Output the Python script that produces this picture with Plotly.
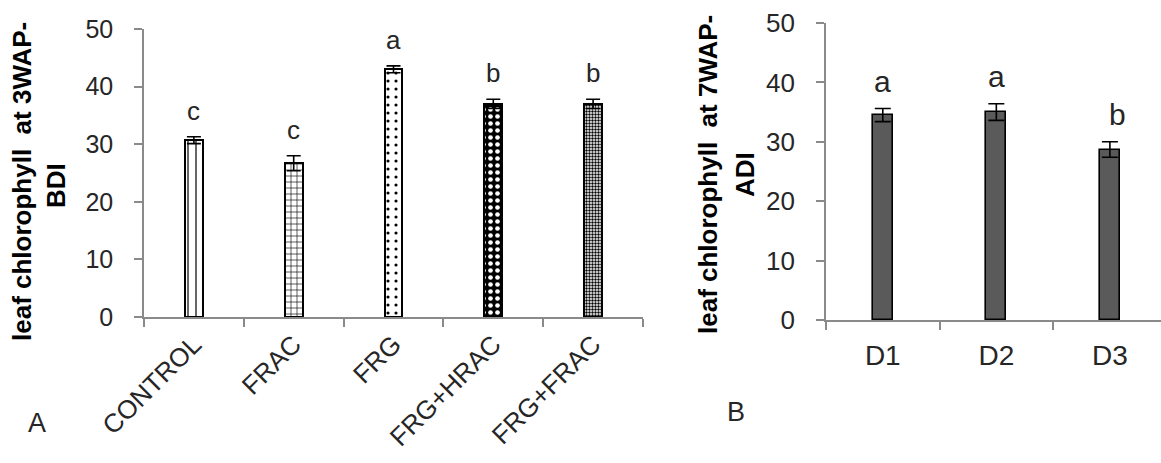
import plotly.graph_objects as go

W, H = 1161, 463

# Panel A data
cats_a = ["CONTROL", "FRAC", "FRG", "FRG+HRAC", "FRG+FRAC"]
vals_a = [30.7, 26.7, 43.0, 37.0, 37.0]
errs_a = [0.6, 1.3, 0.6, 0.8, 0.8]
letters_a = ["c", "c", "a", "b", "b"]

# Panel B data
cats_b = ["D1", "D2", "D3"]
vals_b = [34.5, 35.0, 28.7]
errs_b = [1.1, 1.4, 1.3]
letters_b = ["a", "a", "b"]

yticks = [0, 10, 20, 30, 40, 50]

FONT = "Liberation Sans, Arial, sans-serif"
AX = "#8a8a8a"
TXT = "#262626"

def px(x):
    return x / W

def py(y):
    return 1 - y / H

fig = go.Figure()

fig.add_trace(go.Bar(
    x=cats_a, y=vals_a, xaxis="x", yaxis="y", width=0.18,
    marker=dict(
        color="white",
        line=dict(color="black", width=2),
        pattern=dict(
            shape=["|", "+", ".", ".", "."],
            size=[8, 6, 8, 7, 3],
            solidity=[0.15, 0.2, 0.12, 0.35, 0.5],
            bgcolor=["white", "white", "white", "black", "white"],
            fgcolor=["black", "black", "black", "white", "black"],
            fillmode="replace",
        ),
    ),
    error_y=dict(type="data", array=errs_a, visible=True, color="black", thickness=1.6, width=7),
    showlegend=False,
))

fig.add_trace(go.Bar(
    x=cats_b, y=vals_b, xaxis="x2", yaxis="y2", width=0.176,
    marker=dict(color="#5a5a5a", line=dict(color="black", width=1.6)),
    error_y=dict(type="data", array=errs_b, visible=True, color="black", thickness=1.6, width=8),
    showlegend=False,
))

annotations = []
for c, v, e, t in zip(cats_a, vals_a, errs_a, letters_a):
    annotations.append(dict(x=c, y=v + e, xref="x", yref="y", text=t, showarrow=False,
                            yanchor="bottom", yshift=9, font=dict(size=26, color=TXT, family=FONT)))
for i, (c, v, e, t) in enumerate(zip(cats_b, vals_b, errs_b, letters_b)):
    annotations.append(dict(x=c, y=v + e, xref="x2", yref="y2", text=t, showarrow=False,
                            yanchor="bottom", yshift=9, xshift=8 if i == 2 else 0,
                            font=dict(size=30, color=TXT, family=FONT)))

title_font = dict(size=26, color="black", family=FONT)
annotations += [
    dict(x=px(22), y=py(182), xref="paper", yref="paper", text="<b>leaf chlorophyll  at 3WAP-</b>",
         textangle=-90, showarrow=False, xanchor="center", yanchor="middle", font=title_font),
    dict(x=px(56), y=py(186), xref="paper", yref="paper", text="<b>BDI</b>",
         textangle=-90, showarrow=False, xanchor="center", yanchor="middle", font=title_font),
    dict(x=px(708), y=py(175), xref="paper", yref="paper", text="<b>leaf chlorophyll  at 7WAP-</b>",
         textangle=-90, showarrow=False, xanchor="center", yanchor="middle", font=title_font),
    dict(x=px(745), y=py(175), xref="paper", yref="paper", text="<b>ADI</b>",
         textangle=-90, showarrow=False, xanchor="center", yanchor="middle", font=title_font),
    dict(x=px(37), y=py(423), xref="paper", yref="paper", text="A", showarrow=False,
         xanchor="center", yanchor="middle", font=dict(size=27, color=TXT, family=FONT)),
    dict(x=px(736), y=py(412), xref="paper", yref="paper", text="B", showarrow=False,
         xanchor="center", yanchor="middle", font=dict(size=27, color=TXT, family=FONT)),
]

axis_common = dict(showline=True, linecolor=AX, linewidth=1.6, ticks="outside", ticklen=8,
                   tickcolor=AX, tickwidth=1.6, showgrid=False, zeroline=False, automargin=False)

fig.update_layout(
    width=W, height=H,
    margin=dict(l=0, r=0, t=0, b=0),
    paper_bgcolor="white", plot_bgcolor="white",
    font=dict(family=FONT, color=TXT),
    bargap=0,
    xaxis=dict(domain=[px(144), px(643)], anchor="y", type="category", tickson="boundaries",
               tickangle=-45, tickfont=dict(size=26, color=TXT, family=FONT),
               range=[-0.5, 4.5], **axis_common),
    yaxis=dict(domain=[py(317), py(29)], anchor="x", range=[0, 50], tickvals=yticks,
               tickfont=dict(size=25, color=TXT, family=FONT), ticklabelstandoff=16, **axis_common),
    xaxis2=dict(domain=[px(826), 1.0], anchor="y2", type="category", tickson="boundaries",
                tickfont=dict(size=28, color=TXT, family=FONT), ticklabelstandoff=10,
                range=[-0.5, 2.45], **axis_common),
    yaxis2=dict(domain=[py(320), py(23)], anchor="x2", range=[0, 50], tickvals=yticks,
                tickfont=dict(size=26, color=TXT, family=FONT), ticklabelstandoff=16, **axis_common),
    annotations=annotations,
)

fig.write_html("out.html")
